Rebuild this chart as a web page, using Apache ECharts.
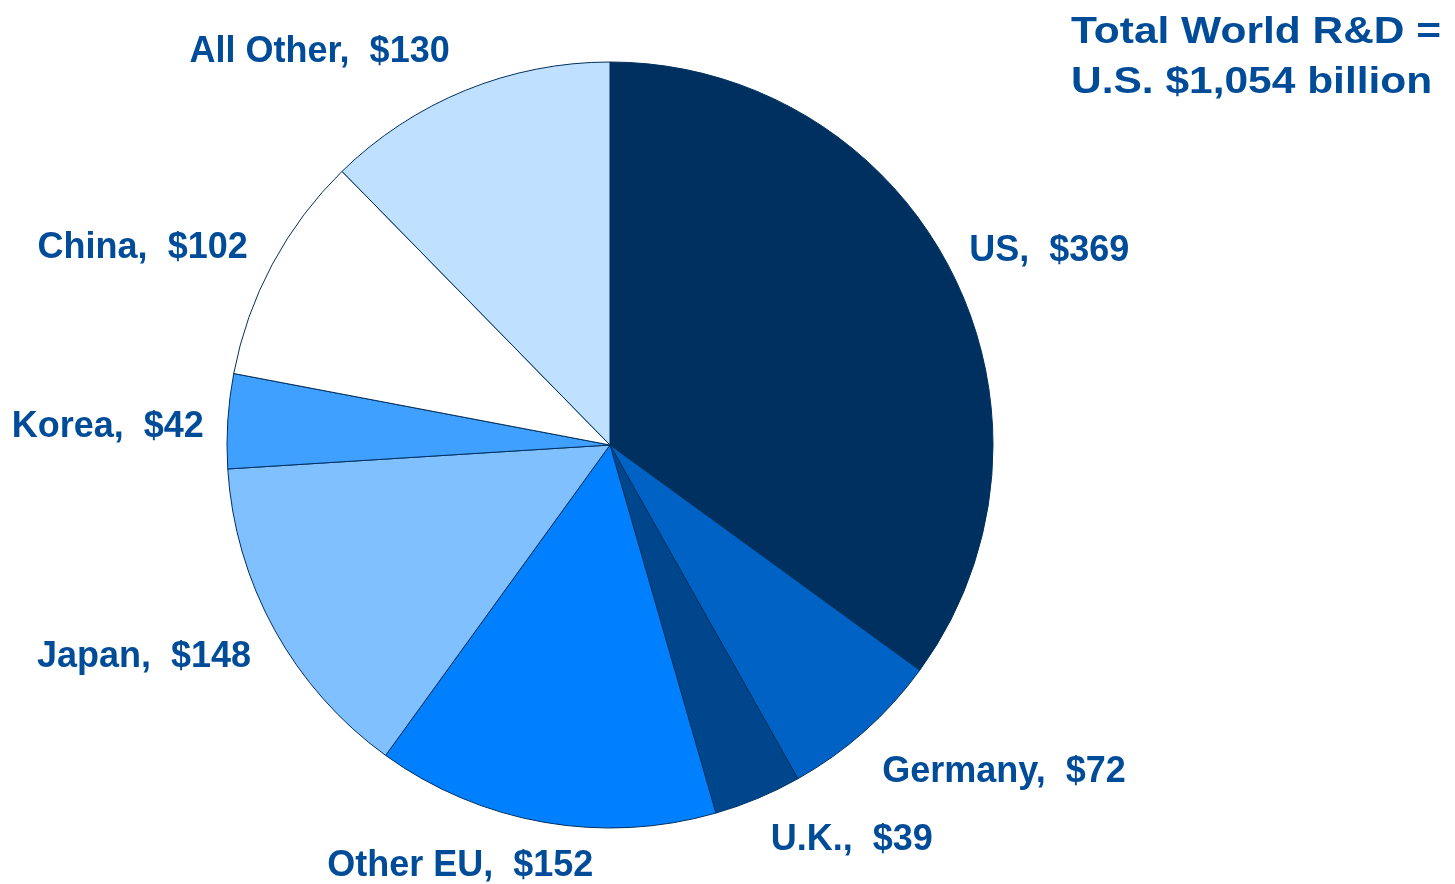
<!DOCTYPE html>
<html><head><meta charset="utf-8">
<script src="https://cdn.jsdelivr.net/npm/echarts@6/dist/echarts.min.js"></script>
<style>html,body{margin:0;padding:0;background:#fff}#c{width:1455px;height:884px}</style>
</head><body><div id="c"></div>
<script>
const categories = ['US', 'Germany', 'U.K.', 'Other EU', 'Japan', 'Korea', 'China', 'All Other'];
const values = [369, 72, 39, 152, 148, 42, 102, 130];
const sliceColors = ['#00305F', '#0062C4', '#00468C', '#0080FF', '#80C0FF', '#40A0FF', '#FFFFFF', '#C0E0FF'];
const titleLines = ['Total World R&D =', 'U.S. $1,054 billion'];

const textColor = '#004C99';
// label nudges (layout only), in slice order
const labelNudge = [[-12, -7], [-6, 20], [-3, 16], [59, 16], [6, 14], [9, 8], [5, -3], [0, -12]];
const chart = echarts.init(document.getElementById('c'));
chart.setOption({
  backgroundColor: '#ffffff',
  animation: false,
  graphic: [{
    type: 'text', left: 1071, top: 8, scaleX: 1.18,
    style: { text: titleLines.join('\n'), fill: textColor, font: 'bold 36px "Liberation Sans", Arial, sans-serif', lineHeight: 50 }
  }],
  series: [{
    type: 'pie',
    center: [610, 445],
    radius: 383,
    startAngle: 90,
    clockwise: true,
    avoidLabelOverlap: false,
    data: categories.map((c, i) => ({ name: c, value: values[i], itemStyle: { color: sliceColors[i] } })),
    itemStyle: { borderColor: '#00305F', borderWidth: 1 },
    label: {
      show: true, position: 'outside',
      formatter: p => p.name + ',  $' + p.value,
      color: textColor, fontFamily: '"Liberation Sans", Arial, sans-serif', fontWeight: 'bold', fontSize: 36
    },
    labelLine: { show: false, length: 28, length2: 0 },
    labelLayout: p => ({ dx: labelNudge[p.dataIndex][0], dy: labelNudge[p.dataIndex][1] }),
    emphasis: { disabled: true }
  }]
});
</script></body></html>
